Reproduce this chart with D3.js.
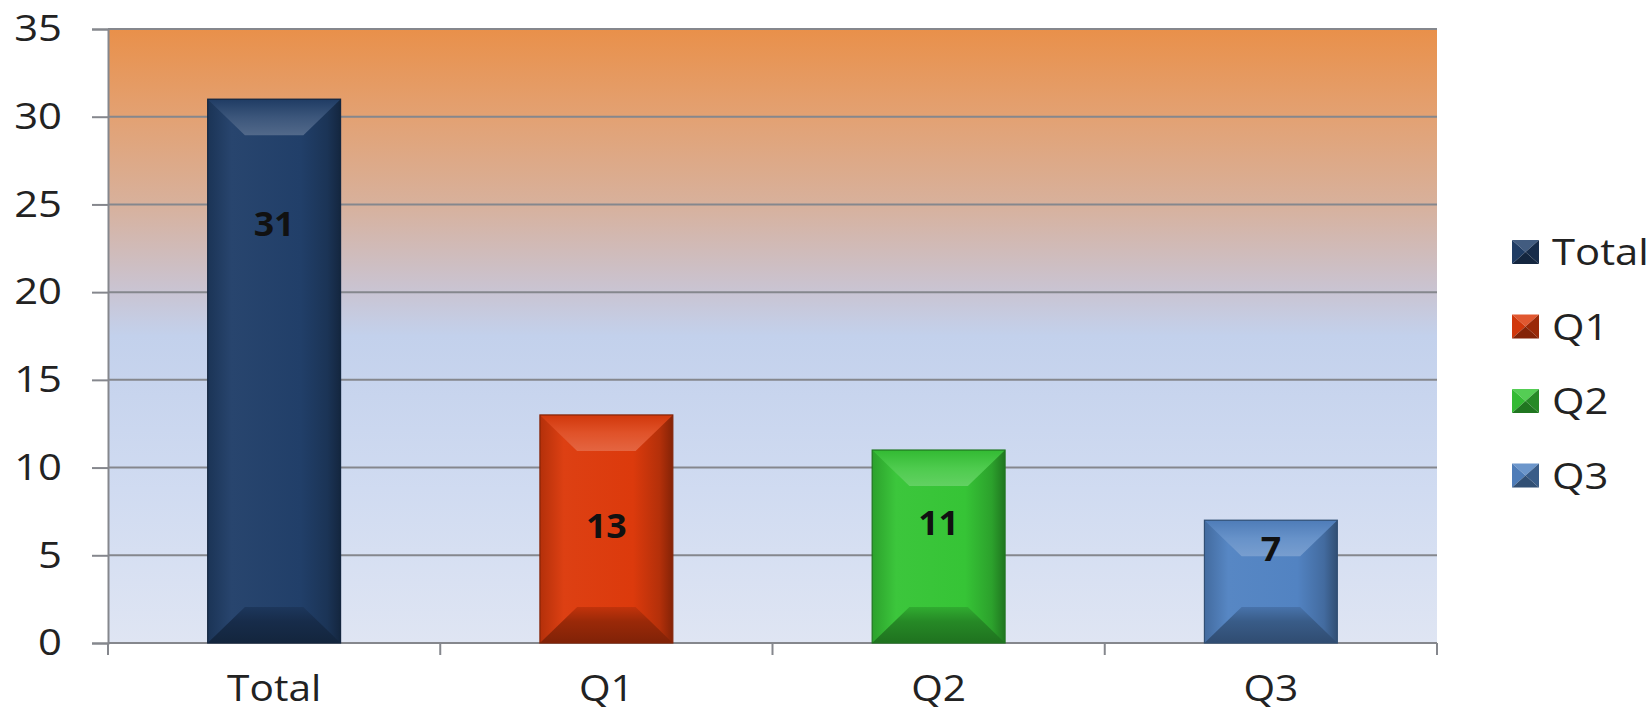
<!DOCTYPE html>
<html>
<head>
<meta charset="utf-8">
<script src="https://cdn.jsdelivr.net/npm/d3@7"></script>
<style>
  body { margin: 0; background: #fff; }
  text { font-family: "Open Sans", Lato, sans-serif; }
</style>
</head>
<body>
<div id="chart"></div>
<script>
// chart data
var categories = ["Total", "Q1", "Q2", "Q3"];
var values = [31, 13, 11, 7];
// where the value label sits, in axis units
var labelAt = [23.9, 6.7, 6.85, 5.4];
var yTicks = [0, 5, 10, 15, 20, 25, 30, 35];
var barColors = ["#213f69", "#dc3a0c", "#36c436", "#5283c2"];

var width = 1651, height = 713;
var margin = {top: 29, right: 214, bottom: 70, left: 108};
var plotW = width - margin.left - margin.right,
    plotH = height - margin.top - margin.bottom;
var stretch = 1.13;   // the original text is a bit wide
var gridCol = "#85878d";

var svg = d3.select("#chart").append("svg")
    .attr("width", width)
    .attr("height", height);

var defs = svg.append("defs");

// plot area background, orange at the top fading into pale blue
var bg = defs.append("linearGradient")
    .attr("id", "bg").attr("x1", 0).attr("y1", 0).attr("x2", 0).attr("y2", 1);
[[0, "#e9904a"], [0.14, "#e3a172"], [0.28, "#d8b09a"], [0.42, "#cac3d0"],
 [0.5, "#c3d1ec"], [0.75, "#d0dbf1"], [1, "#dfe5f3"]].forEach(function(s) {
    bg.append("stop").attr("offset", s[0]).attr("stop-color", s[1]);
});

var x = d3.scaleBand()
    .domain(categories)
    .range([0, plotW])
    .paddingInner(0.6)
    .paddingOuter(0.3);

var y = d3.scaleLinear()
    .domain([0, 35])
    .range([plotH, 0]);

var g = svg.append("g")
    .attr("transform", "translate(" + margin.left + "," + margin.top + ")");

g.append("rect")
    .attr("width", plotW)
    .attr("height", plotH)
    .attr("fill", "url(#bg)");

// gridlines
g.selectAll(".grid")
    .data(yTicks)
    .enter().append("line")
    .attr("class", "grid")
    .attr("x1", 0).attr("x2", plotW)
    .attr("y1", function(d) { return y(d); })
    .attr("y2", function(d) { return y(d); })
    .attr("stroke", gridCol)
    .attr("stroke-width", 2);

// y axis
var yAxis = g.append("g")
    .call(d3.axisLeft(y).tickValues(yTicks).tickSize(16).tickPadding(30));
yAxis.select(".domain").attr("stroke", gridCol).attr("stroke-width", 2);
yAxis.selectAll(".tick line").attr("stroke", gridCol).attr("stroke-width", 2);
yAxis.selectAll(".tick text")
    .attr("font-family", "'Open Sans', sans-serif")
    .attr("font-size", 37)
    .attr("fill", "#222")
    .attr("x", 0)
    .attr("transform", "translate(-46,0) scale(" + stretch + ",1)");

// x axis: ticks on category boundaries
var xAxis = g.append("g")
    .attr("transform", "translate(0," + plotH + ")");
xAxis.append("line")
    .attr("x1", 0).attr("x2", plotW)
    .attr("stroke", gridCol).attr("stroke-width", 2);
xAxis.selectAll(".bound")
    .data(d3.range(categories.length + 1))
    .enter().append("line")
    .attr("x1", function(i) { return i * plotW / categories.length; })
    .attr("x2", function(i) { return i * plotW / categories.length; })
    .attr("y1", 0).attr("y2", 12)
    .attr("stroke", gridCol).attr("stroke-width", 2);
xAxis.selectAll(".xlab")
    .data(categories)
    .enter().append("text")
    .attr("transform", function(d) {
        return "translate(" + (x(d) + x.bandwidth() / 2) + ",58) scale(" + stretch + ",1)";
    })
    .attr("text-anchor", "middle")
    .attr("font-size", 36)
    .attr("fill", "#222")
    .text(function(d) { return d; });

// bevelled bars
function shade(c, k) {
    return k > 0 ? d3.interpolateRgb(c, "#ffffff")(k) : d3.interpolateRgb(c, "#000000")(-k);
}

categories.forEach(function(c, i) {
    var col = barColors[i];
    var gr = defs.append("linearGradient").attr("id", "face" + i)
        .attr("x1", 0).attr("x2", 1).attr("y1", 0).attr("y2", 0);
    gr.append("stop").attr("offset", 0).attr("stop-color", shade(col, -0.18));
    gr.append("stop").attr("offset", 0.18).attr("stop-color", shade(col, 0.03));
    gr.append("stop").attr("offset", 0.7).attr("stop-color", col);
    gr.append("stop").attr("offset", 0.9).attr("stop-color", shade(col, -0.18));
    gr.append("stop").attr("offset", 1).attr("stop-color", shade(col, -0.4));

    var tg = defs.append("linearGradient").attr("id", "top" + i)
        .attr("x1", 0).attr("x2", 0).attr("y1", 0).attr("y2", 1);
    tg.append("stop").attr("offset", 0).attr("stop-color", shade(col, -0.05));
    tg.append("stop").attr("offset", 0.5).attr("stop-color", shade(col, 0.12));
    tg.append("stop").attr("offset", 1).attr("stop-color", shade(col, 0.22));

    var bgd = defs.append("linearGradient").attr("id", "bot" + i)
        .attr("x1", 0).attr("x2", 0).attr("y1", 0).attr("y2", 1);
    bgd.append("stop").attr("offset", 0).attr("stop-color", shade(col, -0.12));
    bgd.append("stop").attr("offset", 0.4).attr("stop-color", shade(col, -0.3));
    bgd.append("stop").attr("offset", 1).attr("stop-color", shade(col, -0.42));
});

var bars = g.selectAll(".bar")
    .data(values)
    .enter().append("g")
    .attr("class", "bar");

bars.each(function(v, i) {
    var x0 = x(categories[i]), w = x.bandwidth();
    var y0 = y(v), h = y(0) - y(v);
    var b = Math.min(36, h * 0.3), bx = Math.min(38, w * 0.28);
    var el = d3.select(this);
    var x1 = x0 + w, y1 = y0 + h;
    function poly(pts) { return "M" + pts.map(function(p) { return p.join(","); }).join("L") + "Z"; }

    el.append("rect")
        .attr("x", x0).attr("y", y0).attr("width", w).attr("height", h)
        .attr("fill", "url(#face" + i + ")");
    // top and bottom bevels
    el.append("path")
        .attr("d", poly([[x0, y0], [x1, y0], [x1 - bx, y0 + b], [x0 + bx, y0 + b]]))
        .attr("fill", "url(#top" + i + ")");
    el.append("path")
        .attr("d", poly([[x0, y1], [x1, y1], [x1 - bx, y1 - b], [x0 + bx, y1 - b]]))
        .attr("fill", "url(#bot" + i + ")");
    el.append("rect")
        .attr("x", x0).attr("y", y0).attr("width", w).attr("height", h)
        .attr("fill", "none").attr("stroke", shade(barColors[i], -0.4)).attr("stroke-width", 1.2);
});

// value labels
g.selectAll(".val")
    .data(values)
    .enter().append("text")
    .attr("class", "val")
    .attr("transform", function(d, i) {
        return "translate(" + (x(categories[i]) + x.bandwidth() / 2) + "," + y(labelAt[i]) + ") scale(1.05,1)";
    })
    .attr("dy", "0.36em")
    .attr("text-anchor", "middle")
    .attr("font-size", 34)
    .attr("font-weight", "bold")
    .attr("fill", "#111")
    .text(function(d) { return d; });

// legend
var legend = svg.append("g")
    .attr("transform", "translate(1512,252)");
var item = legend.selectAll(".item")
    .data(categories)
    .enter().append("g")
    .attr("transform", function(d, i) { return "translate(0," + (i * 74.5) + ")"; });
var tri = [
    ["M0,-12L27,-12L13.5,0Z", 0.15],
    ["M0,-12L13.5,0L0,12Z", -0.05],
    ["M27,-12L13.5,0L27,12Z", -0.3],
    ["M0,12L13.5,0L27,12Z", -0.4]
];
tri.forEach(function(t) {
    item.append("path")
        .attr("d", t[0])
        .attr("fill", function(d, i) { return shade(barColors[i], t[1]); });
});
item.append("text")
    .attr("transform", "translate(40,0) scale(" + stretch + ",1)")
    .attr("dy", "0.36em")
    .attr("font-size", 37)
    .attr("fill", "#222")
    .text(function(d) { return d; });
</script>
</body>
</html>
